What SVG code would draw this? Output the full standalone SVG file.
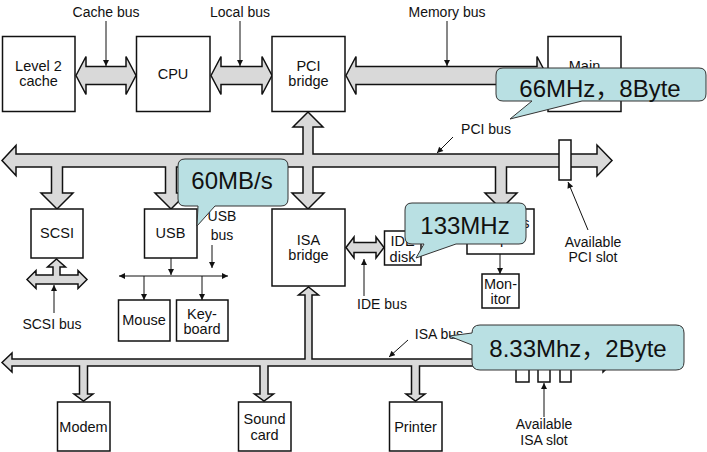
<svg xmlns="http://www.w3.org/2000/svg" width="707" height="452" viewBox="0 0 707 452">
<style>
  .box { fill: #fff; stroke: #111; stroke-width: 1.5; }
  .bus { fill: #d9d9d9; stroke: #111; stroke-width: 1.5; stroke-linejoin: miter; }
  .ptr { fill: none; stroke: #111; stroke-width: 1; }
  .t { font-family: "Liberation Sans", Arial, sans-serif; font-size: 14.5px; fill: #111; text-anchor: middle; }
  .tl { font-family: "Liberation Sans", Arial, sans-serif; font-size: 14px; fill: #111; text-anchor: middle; }
  .call { fill: #b9e0e3; stroke: #333; stroke-width: 1; }
  .ct { font-family: "Liberation Sans", Arial, "Noto Sans CJK SC", sans-serif; font-size: 24px; fill: #111; text-anchor: middle; }
</style>
<defs>
  <marker id="ah" viewBox="0 0 10 10" refX="10" refY="5" markerWidth="7" markerHeight="6" markerUnits="userSpaceOnUse" orient="auto-start-reverse">
    <path d="M0,0 L10,5 L0,10 Z" fill="#111"/>
  </marker>
</defs>
<rect width="707" height="452" fill="#fff"/>

<g id="connectors">
  <!-- top buses -->
  <path id="cache-bus" class="bus" d="M76,75.5 L86,56.5 L86,66.5 L126,66.5 L126,56.5 L136,75.5 L126,94.5 L126,84.5 L86,84.5 L86,94.5 Z"/>
  <path id="local-bus" class="bus" d="M211,75.5 L221,56.5 L221,66.5 L262,66.5 L262,56.5 L272,75.5 L262,94.5 L262,84.5 L221,84.5 L221,94.5 Z"/>
  <path id="memory-bus" class="bus" d="M346,75.5 L356,56.5 L356,66.5 L537,66.5 L537,56.5 L547,75.5 L537,94.5 L537,84.5 L356,84.5 L356,94.5 Z"/>
  <!-- PCI bus -->
  <path id="pci-bus" class="bus" d="M2,160.5 L16,145.5 L16,154 L303,154 L303,127 L293,127 L308,112 L323,127 L313,127 L313,154 L597,154 L597,145 L612,160.5 L597,176 L597,167 L506.5,167 L506.5,193 L517,193 L501,209 L485,193 L495.5,193 L495.5,167 L313,167 L313,193 L324,193 L308,209 L292,193 L303,193 L303,167 L176.5,167 L176.5,193 L187,193 L171,209 L155,193 L165.5,193 L165.5,167 L62.5,167 L62.5,193 L73,193 L57,209 L41,193 L51.5,193 L51.5,167 L16,167 L16,175.5 Z"/>
  <!-- SCSI bus -->
  <path id="scsi-bus" class="bus" d="M56.5,259 L65.5,267 L60,267 L60,275 L78,275 L78,270.5 L87,279.5 L78,288.5 L78,284 L36,284 L36,288.5 L27,279.5 L36,270.5 L36,275 L53,275 L53,267 L47.5,267 Z"/>
  <!-- IDE bus -->
  <path id="ide-bus" class="bus" d="M346,247.5 L354,237 L354,242.5 L376,242.5 L376,237 L384,247.5 L376,258 L376,252.5 L354,252.5 L354,258 Z"/>
  <!-- ISA bus -->
  <path id="isa-bus" class="bus" d="M2,362.5 L12,353 L12,359 L305,359 L305,295 L298.5,295 L308.5,287 L318.5,295 L312,295 L312,359 L603,359 L603,353 L613,362.5 L603,372 L603,366 L419.5,366 L419.5,394 L425,394 L415.5,401 L406,394 L411.5,394 L411.5,366 L268,366 L268,394 L273.5,394 L264,401 L254.5,394 L260,394 L260,366 L87.5,366 L87.5,394 L93,394 L83.5,401 L74,394 L79.5,394 L79.5,366 L12,366 L12,372 Z"/>
  <!-- slots -->
  <rect class="box" x="559" y="140" width="12" height="40" stroke-width="1.3"/>
  <rect class="box" x="516" y="346" width="13" height="36" stroke-width="1.3"/>
  <rect class="box" x="538" y="346" width="12" height="36" stroke-width="1.3"/>
  <rect class="box" x="560" y="346" width="11" height="36" stroke-width="1.3"/>
  <!-- USB bus -->
  <line class="ptr" x1="119" y1="276" x2="228" y2="276" stroke-width="1.5" marker-start="url(#ah)" marker-end="url(#ah)"/>
  <line class="ptr" x1="171" y1="258" x2="171" y2="275" stroke-width="1.3" marker-end="url(#ah)"/>
  <line class="ptr" x1="144" y1="276" x2="144" y2="300" stroke-width="1.3" marker-end="url(#ah)"/>
  <line class="ptr" x1="202" y1="276" x2="202" y2="300" stroke-width="1.3" marker-end="url(#ah)"/>
  <line class="ptr" x1="500" y1="254" x2="500" y2="274" stroke-width="1.3" marker-end="url(#ah)"/>
  <!-- label pointers -->
  <line class="ptr" x1="106" y1="21" x2="106" y2="66" marker-end="url(#ah)"/>
  <line class="ptr" x1="240" y1="21" x2="240" y2="66" marker-end="url(#ah)"/>
  <line class="ptr" x1="447" y1="21" x2="447" y2="66" marker-end="url(#ah)"/>
  <line class="ptr" x1="453" y1="137" x2="437" y2="153" marker-end="url(#ah)"/>
  <line class="ptr" x1="588" y1="230" x2="568" y2="182" marker-end="url(#ah)"/>
  <line class="ptr" x1="364" y1="296" x2="364" y2="259" marker-end="url(#ah)"/>
  <line class="ptr" x1="54" y1="313" x2="54" y2="285" marker-end="url(#ah)"/>
  <line class="ptr" x1="212" y1="245" x2="212" y2="268" marker-end="url(#ah)"/>
  <line class="ptr" x1="408" y1="340" x2="389" y2="357" marker-end="url(#ah)"/>
  <line class="ptr" x1="544" y1="417" x2="544" y2="383" marker-end="url(#ah)"/>
</g>

<g id="labels">
  <text class="tl" x="106" y="17">Cache bus</text>
  <text class="tl" x="240" y="17">Local bus</text>
  <text class="tl" x="447" y="17">Memory bus</text>
  <text class="tl" x="486" y="134">PCI bus</text>
  <text class="tl" x="593" y="247">Available</text>
  <text class="tl" x="593" y="262">PCI slot</text>
  <text class="tl" x="382" y="309">IDE bus</text>
  <text class="tl" x="52" y="329">SCSI bus</text>
  <text class="tl" x="222" y="221">USB</text>
  <text class="tl" x="222" y="240">bus</text>
  <text class="tl" x="439" y="339">ISA bus</text>
  <text class="tl" x="544" y="429">Available</text>
  <text class="tl" x="544" y="445">ISA slot</text>
</g>

<g id="n-l2"><rect class="box" x="2.5" y="36.5" width="72.5" height="75"/><text class="t" x="38.5" y="71">Level 2</text><text class="t" x="38.5" y="86">cache</text></g>
<g id="n-cpu"><rect class="box" x="136.5" y="36.5" width="73.5" height="75"/><text class="t" x="173" y="79">CPU</text></g>
<g id="n-pcibridge"><rect class="box" x="272" y="36.5" width="73" height="75"/><text class="t" x="308.5" y="71">PCI</text><text class="t" x="308.5" y="86">bridge</text></g>
<g id="n-mem"><rect class="box" x="548" y="36.5" width="73" height="75"/><text class="t" x="584.5" y="71">Main</text><text class="t" x="584.5" y="86">memory</text></g>
<g id="n-scsi"><rect class="box" x="31" y="209" width="52" height="49"/><text class="t" x="57" y="238">SCSI</text></g>
<g id="n-usb"><rect class="box" x="144.5" y="209" width="52.5" height="49"/><text class="t" x="170.5" y="238">USB</text></g>
<g id="n-isabridge"><rect class="box" x="272" y="209" width="73" height="77"/><text class="t" x="308.5" y="245">ISA</text><text class="t" x="308.5" y="260">bridge</text></g>
<g id="n-ide"><rect class="box" x="384.5" y="231" width="36.5" height="34"/><text class="t" x="402.5" y="246">IDE</text><text class="t" x="402.5" y="262">disk</text></g>
<g id="n-graphics"><rect class="box" x="467" y="209" width="67" height="45"/><text class="t" x="500.5" y="228">Graphics</text><text class="t" x="500.5" y="244">adaptor</text></g>
<g id="n-monitor"><rect class="box" x="482" y="274" width="37" height="34"/><text class="t" x="500.5" y="289" font-size="14">Mon-</text><text class="t" x="500.5" y="304" font-size="14">itor</text></g>
<g id="n-mouse"><rect class="box" x="118.5" y="300" width="51.5" height="41"/><text class="t" x="144" y="325">Mouse</text></g>
<g id="n-keyboard"><rect class="box" x="176.5" y="300" width="51.5" height="41"/><text class="t" x="202" y="319">Key-</text><text class="t" x="202" y="334">board</text></g>
<g id="n-modem"><rect class="box" x="57.5" y="402" width="52.5" height="49"/><text class="t" x="83.5" y="432">Modem</text></g>
<g id="n-sound"><rect class="box" x="238.5" y="402" width="52.5" height="49"/><text class="t" x="264.5" y="424">Sound</text><text class="t" x="264.5" y="440">card</text></g>
<g id="n-printer"><rect class="box" x="389.5" y="402" width="52.5" height="49"/><text class="t" x="415.5" y="432">Printer</text></g>

<g id="callouts">
  <g id="c-66"><path class="call" d="M503,68 H699 Q706,68 706,75 V94 Q706,101 699,101 H582 L510,119 L532,101 H503 Q496,101 496,94 V75 Q496,68 503,68 Z"/><text class="ct" x="600" y="97">66MHz，8Byte</text></g>
  <g id="c-60"><path class="call" d="M185,159 H281 Q288,159 288,166 V199 Q288,206 281,206 H215 L197,226 L198,206 H185 Q178,206 178,199 V166 Q178,159 185,159 Z"/><text class="ct" x="232" y="189">60MB/s</text></g>
  <g id="c-133"><path class="call" d="M412,203 H519 Q526,203 526,210 V237 Q526,244 519,244 H456 L416,258 L424,244 H412 Q405,244 405,237 V210 Q405,203 412,203 Z"/><text class="ct" x="465" y="234">133MHz</text></g>
  <g id="c-833"><path class="call" d="M480,325 H676 Q684,325 684,333 V362 Q684,370 676,370 H480 Q472,370 472,362 V345 L449,336 L472,333 Q472,325 480,325 Z"/><text class="ct" x="578" y="357">8.33Mhz，2Byte</text></g>
</g>
</svg>
